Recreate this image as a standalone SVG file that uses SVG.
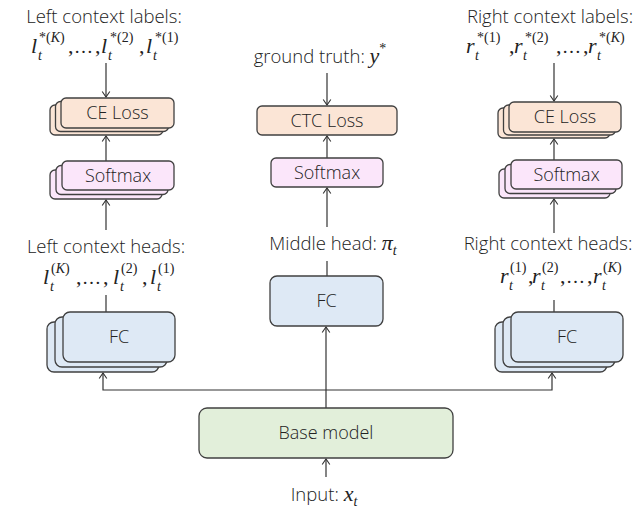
<svg xmlns="http://www.w3.org/2000/svg" width="639" height="508" viewBox="0 0 639 508">
<defs>
<marker id="arr" markerUnits="userSpaceOnUse" markerWidth="10" markerHeight="10" viewBox="-7 -5 8 10" refX="0" refY="0" orient="auto">
<path d="M-5.5,-3.8 L0,0 L-5.5,3.8" fill="none" stroke="#333" stroke-width="1.1"/>
</marker>
</defs>
<style>
.bx{stroke:#404040;stroke-width:1.3}
.ce{fill:#fbe5d6}
.sm{fill:#fbe6fa}
.fc{fill:#dee9f5}
.bm{fill:#e2efda}
.t{font-family:"Open Sans","Segoe UI",sans-serif;font-weight:300;font-size:18.5px;fill:#222}
.b{font-size:18px}
.c{text-anchor:middle}
.m{font-family:"Liberation Serif","DejaVu Serif",serif;font-style:italic;font-size:22px;font-weight:400;fill:#222}
.p{font-family:"Liberation Serif","DejaVu Serif",serif;font-size:22px;fill:#222}
.e{font-size:19px}
.s{font-family:"Liberation Serif","DejaVu Serif",serif;font-size:14px;fill:#222}
.si{font-style:italic}
.ln{stroke:#333;stroke-width:1.2;fill:none}
</style>

<g id="connectors">
<line class="ln" x1="106" y1="63" x2="106" y2="97" marker-end="url(#arr)"/>
<line class="ln" x1="106" y1="161" x2="106" y2="136" marker-end="url(#arr)"/>
<line class="ln" x1="106" y1="230" x2="106" y2="200" marker-end="url(#arr)"/>
<line class="ln" x1="106" y1="295" x2="106" y2="312"/>
<line class="ln" x1="327" y1="73" x2="327" y2="105" marker-end="url(#arr)"/>
<line class="ln" x1="327" y1="158" x2="327" y2="136" marker-end="url(#arr)"/>
<line class="ln" x1="327" y1="227" x2="327" y2="188" marker-end="url(#arr)"/>
<line class="ln" x1="327" y1="261" x2="327" y2="276"/>
<line class="ln" x1="326" y1="408" x2="326" y2="327" marker-end="url(#arr)"/>
<path class="ln" d="M326,390 H103 V373" marker-end="url(#arr)"/>
<path class="ln" d="M326,390 H552 V373" marker-end="url(#arr)"/>
<line class="ln" x1="326" y1="477" x2="326" y2="459" marker-end="url(#arr)"/>
<line class="ln" x1="554" y1="63" x2="554" y2="101" marker-end="url(#arr)"/>
<line class="ln" x1="554" y1="160" x2="554" y2="139" marker-end="url(#arr)"/>
<line class="ln" x1="554" y1="233" x2="554" y2="199" marker-end="url(#arr)"/>
<line class="ln" x1="554" y1="300" x2="554" y2="312"/>
</g>

<g id="left-ce-loss">
<rect class="bx ce" x="50" y="105" width="113" height="30" rx="5"/>
<rect class="bx ce" x="55.5" y="101.5" width="113" height="30" rx="5"/>
<rect class="bx ce" x="61" y="98" width="113" height="30" rx="5"/>
<text class="t b c" x="117.5" y="119">CE Loss</text>
</g>
<g id="left-softmax">
<rect class="bx sm" x="50" y="170" width="112" height="29" rx="5"/>
<rect class="bx sm" x="56" y="165.5" width="112" height="29" rx="5"/>
<rect class="bx sm" x="62" y="161" width="112" height="29" rx="5"/>
<text class="t b c" x="118" y="181.5">Softmax</text>
</g>
<g id="left-fc">
<rect class="bx fc" x="47" y="322" width="112" height="50" rx="7"/>
<rect class="bx fc" x="55" y="317" width="112" height="50" rx="7"/>
<rect class="bx fc" x="63" y="312" width="112" height="50" rx="7"/>
<text class="t b c" x="119" y="343">FC</text>
</g>

<g id="ctc-loss">
<rect class="bx ce" x="257" y="106" width="140" height="29" rx="5"/>
<text class="t b c" x="327" y="126.5">CTC Loss</text>
</g>
<g id="mid-softmax">
<rect class="bx sm" x="271" y="158" width="112" height="29" rx="5"/>
<text class="t b c" x="327" y="178.5">Softmax</text>
</g>
<g id="mid-fc">
<rect class="bx fc" x="270" y="276" width="113" height="50" rx="7"/>
<text class="t b c" x="326.5" y="307">FC</text>
</g>
<g id="base-model">
<rect class="bx bm" x="199" y="408" width="254" height="50" rx="8"/>
<text class="t b c" x="326" y="439">Base model</text>
</g>

<g id="right-ce-loss">
<rect class="bx ce" x="498" y="108" width="112" height="30" rx="5"/>
<rect class="bx ce" x="503.5" y="105" width="112" height="30" rx="5"/>
<rect class="bx ce" x="509" y="102" width="112" height="30" rx="5"/>
<text class="t b c" x="565" y="123">CE Loss</text>
</g>
<g id="right-softmax">
<rect class="bx sm" x="499" y="169" width="111" height="29" rx="5"/>
<rect class="bx sm" x="505" y="164.5" width="111" height="29" rx="5"/>
<rect class="bx sm" x="511" y="160" width="111" height="29" rx="5"/>
<text class="t b c" x="566.5" y="180.5">Softmax</text>
</g>
<g id="right-fc">
<rect class="bx fc" x="495" y="322" width="112" height="50" rx="7"/>
<rect class="bx fc" x="503" y="317" width="112" height="50" rx="7"/>
<rect class="bx fc" x="511" y="312" width="112" height="50" rx="7"/>
<text class="t b c" x="567" y="343">FC</text>
</g>

<g id="left-labels">
<text class="t c" x="104" y="23">Left context labels:</text>
<text class="m" x="31" y="53">l</text><text class="s si" x="38" y="60">t</text><text class="s" x="39" y="42">*(<tspan class="si">K</tspan>)</text>
<text class="p" x="68" y="53">,</text><text class="p e" x="74" y="53">…</text><text class="p" x="95" y="53">,</text>
<text class="m" x="101" y="53">l</text><text class="s si" x="108" y="60">t</text><text class="s" x="110" y="42">*(2)</text>
<text class="p" x="139" y="53">,</text>
<text class="m" x="146" y="53">l</text><text class="s si" x="153" y="60">t</text><text class="s" x="155" y="42">*(1)</text>
</g>

<g id="gt-label">
<text class="t c" x="320" y="63">ground truth: <tspan class="m">y</tspan><tspan class="s" dy="-10">*</tspan></text>
</g>

<g id="right-labels">
<text class="t c" x="550" y="23">Right context labels:</text>
<text class="m" x="466" y="53">r</text><text class="s si" x="475" y="60">t</text><text class="s" x="477" y="42">*(1)</text>
<text class="p" x="509" y="53">,</text>
<text class="m" x="514" y="53">r</text><text class="s si" x="523" y="60">t</text><text class="s" x="525" y="42">*(2)</text>
<text class="p" x="556" y="53">,</text><text class="p e" x="562" y="53">…</text><text class="p" x="583" y="53">,</text>
<text class="m" x="588" y="53">r</text><text class="s si" x="597" y="60">t</text><text class="s" x="599" y="42">*(<tspan class="si">K</tspan>)</text>
</g>

<g id="left-heads">
<text class="t c" x="106" y="253">Left context heads:</text>
<text class="m" x="43" y="284">l</text><text class="s si" x="50" y="291">t</text><text class="s" x="51" y="273">(<tspan class="si">K</tspan>)</text>
<text class="p" x="76" y="284">,</text><text class="p e" x="82" y="284">…</text><text class="p" x="103" y="284">,</text>
<text class="m" x="113" y="284">l</text><text class="s si" x="120" y="291">t</text><text class="s" x="121" y="273">(2)</text>
<text class="p" x="142" y="284">,</text>
<text class="m" x="150" y="284">l</text><text class="s si" x="157" y="291">t</text><text class="s" x="158" y="273">(1)</text>
</g>

<g id="mid-head">
<text class="t c" x="333" y="250">Middle head: <tspan class="m">π</tspan><tspan class="s si" dy="5">t</tspan></text>
</g>

<g id="right-heads">
<text class="t c" x="548" y="250">Right context heads:</text>
<text class="m" x="500" y="283">r</text><text class="s si" x="509" y="290">t</text><text class="s" x="510" y="272">(1)</text>
<text class="p" x="528" y="283">,</text>
<text class="m" x="532" y="283">r</text><text class="s si" x="541" y="290">t</text><text class="s" x="542" y="272">(2)</text>
<text class="p" x="560" y="283">,</text><text class="p e" x="566" y="283">…</text><text class="p" x="587" y="283">,</text>
<text class="m" x="593" y="283">r</text><text class="s si" x="602" y="290">t</text><text class="s" x="603" y="272">(<tspan class="si">K</tspan>)</text>
</g>

<g id="input-label">
<text class="t c" x="324" y="501">Input: <tspan class="m">x</tspan><tspan class="s si" dy="5">t</tspan></text>
</g>
</svg>
